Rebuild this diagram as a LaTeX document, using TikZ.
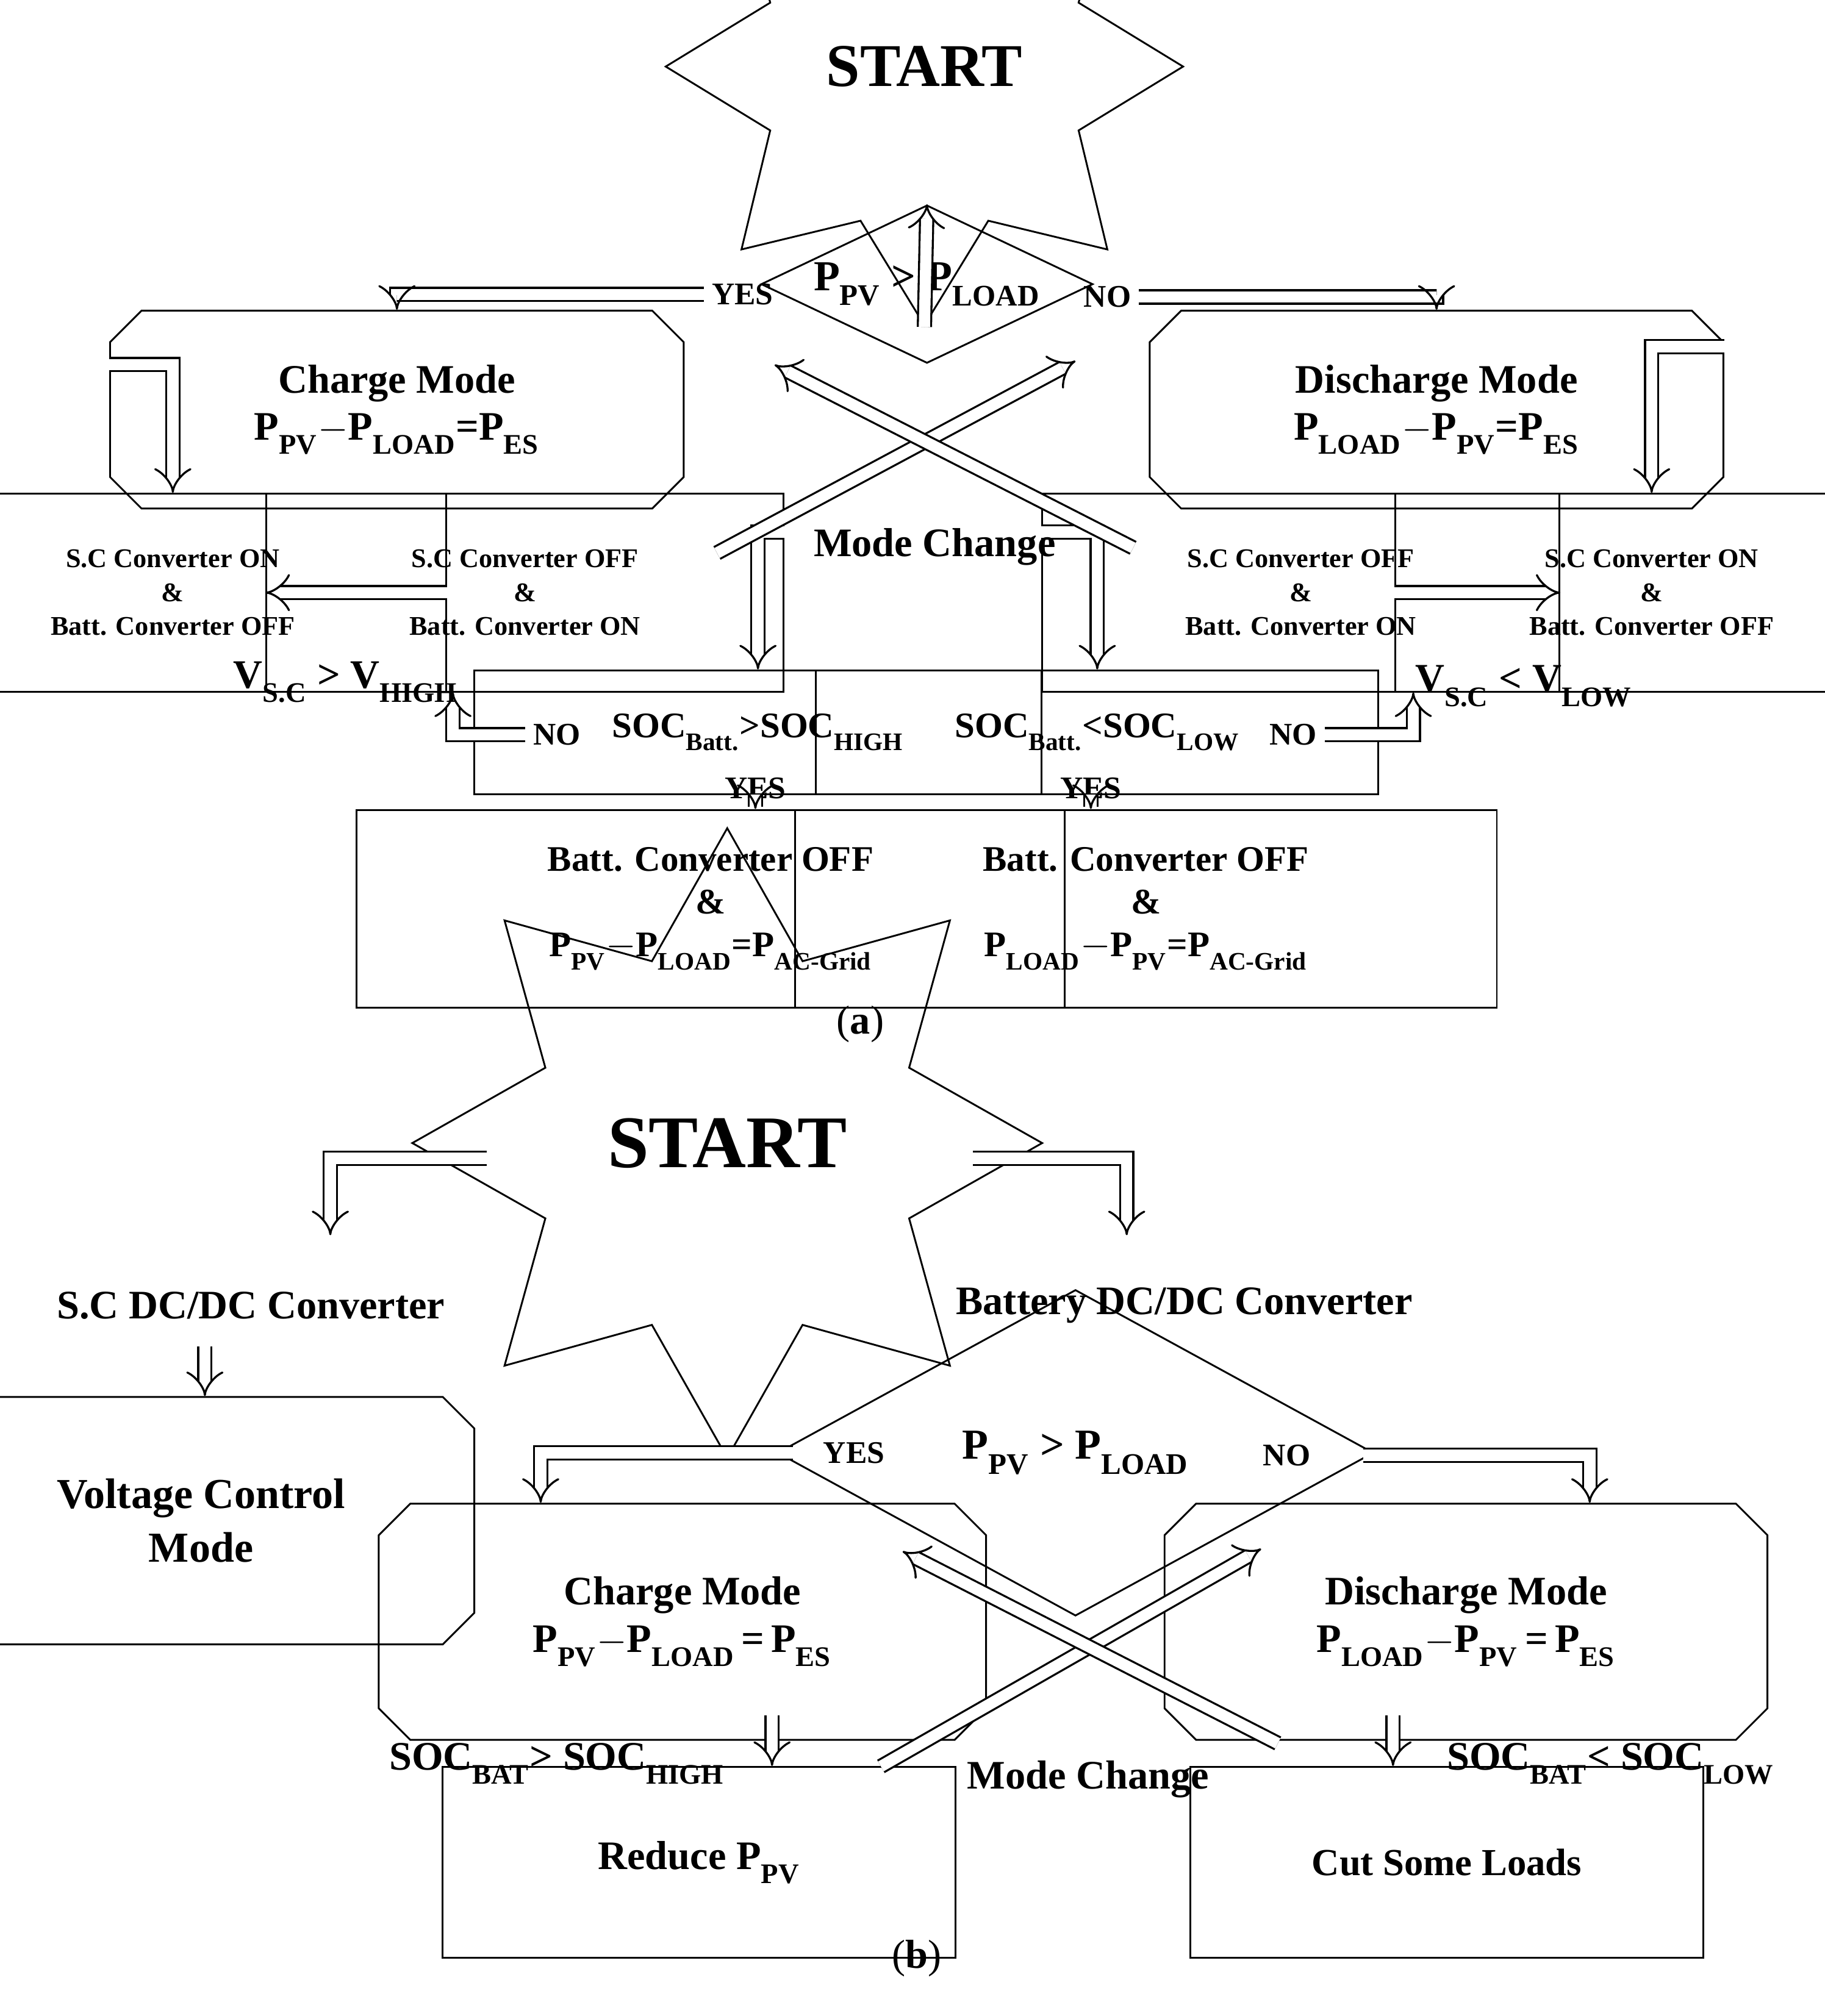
\documentclass[tikz,border=0pt]{standalone}
\usepackage{fontspec}
\setmainfont{Liberation Serif}
\usetikzlibrary{shapes.geometric,shapes.misc,arrows.meta,positioning}
\newcommand\lo[1]{\raisebox{-0.45ex}{\textsubscript{#1}}}
\tikzset{
  arr/.style={double, double distance=5pt, line width=0.9pt, -{Implies}},
  box/.style={draw, rectangle, line width=0.8pt, align=center, font=\fontsize{12}{15}\selectfont\bfseries},
  mode/.style={draw, chamfered rectangle, chamfered rectangle sep=7pt, line width=0.8pt, align=center, font=\fontsize{18}{21}\selectfont\bfseries},
  dec/.style={draw, diamond, aspect=2.1, inner sep=1pt, line width=0.8pt, font=\fontsize{19}{22}\selectfont\bfseries},
  lab/.style={font=\fontsize{14}{16}\selectfont\bfseries},
  big/.style={font=\fontsize{18}{21}\selectfont\bfseries},
}
\begin{document}
\begin{tikzpicture}[x=0.02cm,y=-0.02cm]
\useasboundingbox (0,0) rectangle (1425,1575);
% (a)
\node[draw, star, star points=8, star point ratio=1.55, minimum width=230, minimum height=95, line width=0.8pt, font=\fontsize{27}{30}\selectfont\bfseries, inner sep=0pt] (stA) at (722,52) {START};
\node[dec] (dA) at (724,222) {P\lo{PV} > P\lo{LOAD}};
\draw[arr] (stA.south) -- (dA.north);
\node[mode, minimum width=255, minimum height=88] (cA) at (310,320) {Charge Mode\\P\lo{PV}$-$P\lo{LOAD}=P\lo{ES}};
\node[mode, minimum width=255, minimum height=88] (dcA) at (1122,320) {Discharge Mode\\P\lo{LOAD}$-$P\lo{PV}=P\lo{ES}};
\node[lab] (yesA) at (580,230) {YES};
\node[lab] (noA) at (865,232) {NO};
\draw[arr] (yesA.west) -| (cA.north);
\draw[arr] (noA.east) -| (dcA.north);
\node[box, minimum width=243, minimum height=88] (s1) at (135,463) {S.C Converter ON\\\&\\Batt. Converter OFF};
\node[box, minimum width=230, minimum height=88] (s2) at (410,463) {S.C Converter OFF\\\&\\Batt. Converter ON};
\node[box, minimum width=230, minimum height=88] (s3) at (1016,463) {S.C Converter OFF\\\&\\Batt. Converter ON};
\node[box, minimum width=228, minimum height=88] (s4) at (1290,463) {S.C Converter ON\\\&\\Batt. Converter OFF};
\draw[arr] ([yshift=20]cA.west) -| (s1.north);
\draw[arr] ([yshift=28]dcA.east) -| (s4.north);
\draw[arr] (s1) -- (s2);
\draw[arr] (s4) -- (s3);
\node[box, minimum width=252, minimum height=55, font=\fontsize{16}{19}\selectfont\bfseries] (socH) at (592,572) {SOC\lo{Batt.}>SOC\lo{HIGH}};
\node[box, minimum width=250, minimum height=55, font=\fontsize{16}{19}\selectfont\bfseries] (socL) at (857,572) {SOC\lo{Batt.}<SOC\lo{LOW}};
\draw[arr] ([yshift=27]s2.east) -| (socH.north);
\draw[arr] ([yshift=27]s3.west) -| (socL.north);
\node[lab] (noH) at (435,574) {NO};
\node[lab] (noL) at (1010,574) {NO};
\draw[arr] (noH.west) -| ([xshift=-32]s2.south);
\draw[arr] (noL.east) -| ([xshift=50]s3.south);
\node[big] (vH) at (270,533) {V\lo{S.C} > V\lo{HIGH}};
\node[big] (vL) at (1190,536) {V\lo{S.C} < V\lo{LOW}};
\node[lab] (yH) at (590,616) {YES};
\node[lab] (yL) at (852,616) {YES};
\node[box, minimum width=315, minimum height=88, font=\fontsize{16}{19}\selectfont\bfseries] (fH) at (555,710) {Batt. Converter OFF\\\&\\P\lo{PV}$-$P\lo{LOAD}=P\lo{AC-Grid}};
\node[box, minimum width=312, minimum height=88, font=\fontsize{16}{19}\selectfont\bfseries] (fL) at (895,710) {Batt. Converter OFF\\\&\\P\lo{LOAD}$-$P\lo{PV}=P\lo{AC-Grid}};
\draw[arr] (yH.south) -- (yH.south |- fH.north);
\draw[arr] (yL.south) -- (yL.south |- fL.north);
\coordinate (mA1) at (560,432); \coordinate (mA2) at (840,282);
\coordinate (mA3) at (885,428); \coordinate (mA4) at (605,285);
\draw[arr] (mA1) -- (mA2);
\draw[arr] (mA3) -- (mA4);
\node[big] (mcA) at (730,427) {Mode Change};
\node[font=\fontsize{18}{21}\selectfont] (capA) at (672,800) {(\textbf{a})};
% (b)
\node[draw, star, star points=8, star point ratio=1.6, minimum width=280, minimum height=140, line width=0.8pt, font=\fontsize{33}{36}\selectfont\bfseries, inner sep=0pt] (stB) at (568,893) {START};
\node[big] (scB) at (196,1020) {S.C DC/DC Converter};
\node[big] (btB) at (925,1020) {Battery DC/DC Converter};
\coordinate (lB) at (380,905); \coordinate (rB) at (760,905);
\coordinate (lBe) at (258,965); \coordinate (rBe) at (880,965);
\draw[arr] (lB) -| (lBe);
\draw[arr] (rB) -| (rBe);
\node[mode, minimum width=243, minimum height=110, font=\fontsize{19}{24}\selectfont\bfseries] (vcB) at (157,1188) {Voltage Control\\Mode};
\coordinate (vcT) at (160,1052);
\draw[arr] (vcT) -- (vcT |- vcB.north);
\node[dec, minimum width=265, minimum height=145] (dB) at (840,1135) {P\lo{PV} > P\lo{LOAD}};
\node[lab] (yesB) at (667,1135) {YES};
\node[lab] (noB) at (1005,1137) {NO};
\node[mode, minimum width=270, minimum height=105] (cB) at (533,1267) {Charge Mode\\P\lo{PV}$-$P\lo{LOAD}\,=\,P\lo{ES}};
\node[mode, minimum width=268, minimum height=105] (dcB) at (1145,1267) {Discharge Mode\\P\lo{LOAD}$-$P\lo{PV}\,=\,P\lo{ES}};
\draw[arr] ([xshift=-10]yesB.west) -| ([xshift=-63]cB.north);
\draw[arr] ([xshift=20]noB.east) -| ([xshift=55]dcB.north);
\node[box, minimum width=228, minimum height=85, font=\fontsize{18}{21}\selectfont\bfseries] (rdB) at (546,1455) {Reduce P\lo{PV}};
\node[box, minimum width=228, minimum height=85, font=\fontsize{17}{21}\selectfont\bfseries] (ctB) at (1130,1455) {Cut Some Loads};
\coordinate (rdT) at (603,1340); \coordinate (ctT) at (1088,1340);
\draw[arr] (rdT) -- (rdT |- rdB.north);
\draw[arr] (ctT) -- (ctT |- ctB.north);
\node[big] (sHB) at (435,1378) {SOC\lo{BAT}> SOC\lo{HIGH}};
\node[big] (sLB) at (1258,1378) {SOC\lo{BAT}< SOC\lo{LOW}};
\coordinate (mB1) at (688,1380); \coordinate (mB2) at (985,1210);
\coordinate (mB3) at (998,1362); \coordinate (mB4) at (705,1212);
\draw[arr] (mB1) -- (mB2);
\draw[arr] (mB3) -- (mB4);
\node[big] (mcB) at (850,1390) {Mode Change};
\node[font=\fontsize{18}{21}\selectfont] (capB) at (716,1530) {(\textbf{b})};
\end{tikzpicture}
\end{document}
